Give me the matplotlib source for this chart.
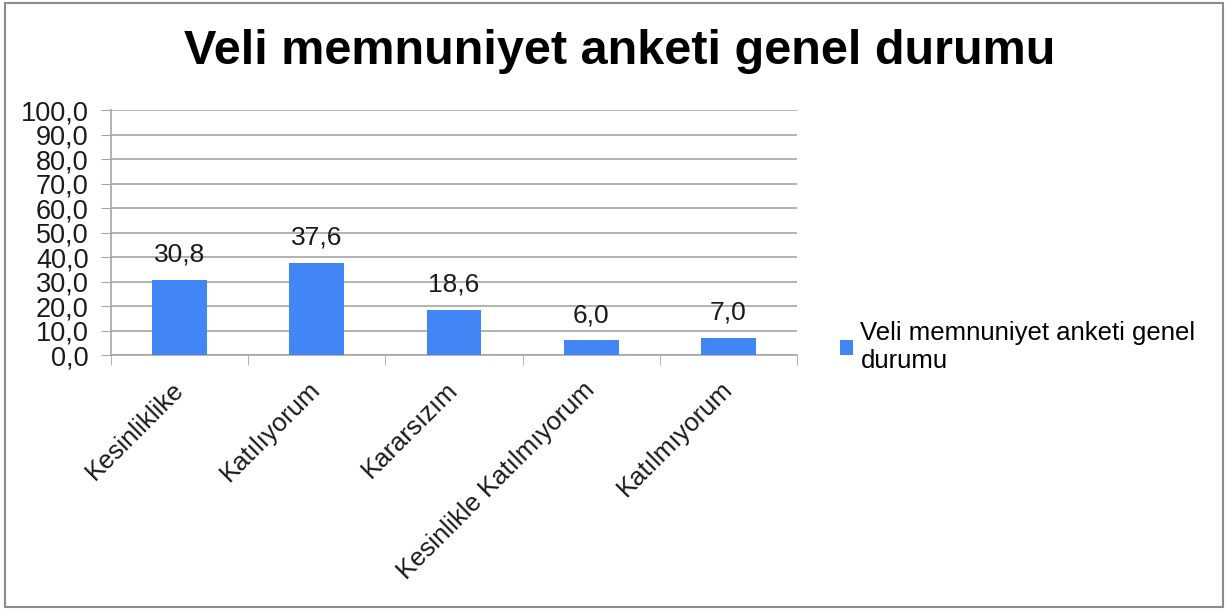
import matplotlib
matplotlib.use('Agg')
import matplotlib.pyplot as plt
from matplotlib.patches import Rectangle
from matplotlib.ticker import FixedLocator, FuncFormatter

# Data
categories = ['Kesinliklike', 'Katılıyorum', 'Kararsızım',
              'Kesinlikle Katılmıyorum', 'Katılmıyorum']
values = [30.8, 37.6, 18.6, 6.0, 7.0]
series_name = 'Veli memnuniyet anketi genel durumu'
y_ticks = [0, 10, 20, 30, 40, 50, 60, 70, 80, 90, 100]

plt.rcParams['font.family'] = ['Liberation Sans', 'DejaVu Sans']

bar_color = '#4285F4'
grid_color = '#a6a6a6'


def comma_fmt(v, pos=None):
    return f'{v:.1f}'.replace('.', ',')


fig = plt.figure(figsize=(12.27, 6.09), dpi=100)
ax = fig.add_axes([0.0905, 0.417, 0.559, 0.402])

x = list(range(len(categories)))
bars = ax.bar(x, values, width=0.4, color=bar_color, label='Veli memnuniyet anketi genel\ndurumu', zorder=3)

# value labels above the bars
for xi, v in zip(x, values):
    ax.annotate(comma_fmt(v), (xi, v), xytext=(0, 13), textcoords='offset points',
                ha='center', va='baseline', fontsize=19, color='#1a1a1a')

ax.set_xlim(-0.5, len(categories) - 0.5)
ax.set_ylim(0, 100)
ax.set_yticks(y_ticks)
ax.yaxis.set_major_formatter(FuncFormatter(comma_fmt))
ax.tick_params(axis='y', labelsize=19.5, length=7, color=grid_color, pad=9, labelcolor='#1a1a1a')
ax.grid(axis='y', color=grid_color, linewidth=1.2, zorder=0)

# category labels centered, ticks on boundaries
ax.set_xticks(x)
ax.set_xticklabels(categories, rotation=45, ha='right', va='center',
                   rotation_mode='anchor', fontsize=18.5, color='#1a1a1a')
ax.tick_params(axis='x', which='major', length=0, pad=22)
ax.xaxis.set_minor_locator(FixedLocator([i - 0.5 for i in range(len(categories) + 1)]))
ax.tick_params(axis='x', which='minor', length=7, color=grid_color)

for side in ['top', 'right']:
    ax.spines[side].set_visible(False)
for side in ['left', 'bottom']:
    ax.spines[side].set_color(grid_color)
    ax.spines[side].set_linewidth(1.2)

fig.text(0.505, 0.916, series_name, ha='center', va='center',
         fontsize=35, fontweight='bold',
         family=['Liberation Sans Narrow', 'Liberation Sans'])

ax.legend(loc='center left', bbox_to_anchor=(0.674, 0.43),
          bbox_transform=fig.transFigure, frameon=False, fontsize=18.5,
          handlelength=0.5, handleheight=0.5, handletextpad=0.3,
          labelspacing=0.35, borderpad=0)

fig.patches.append(Rectangle((0.004, 0.004), 0.993, 0.991, transform=fig.transFigure,
                             fill=False, edgecolor='#8c8c8c', linewidth=1.5))

fig.savefig('out.png', dpi=100)
